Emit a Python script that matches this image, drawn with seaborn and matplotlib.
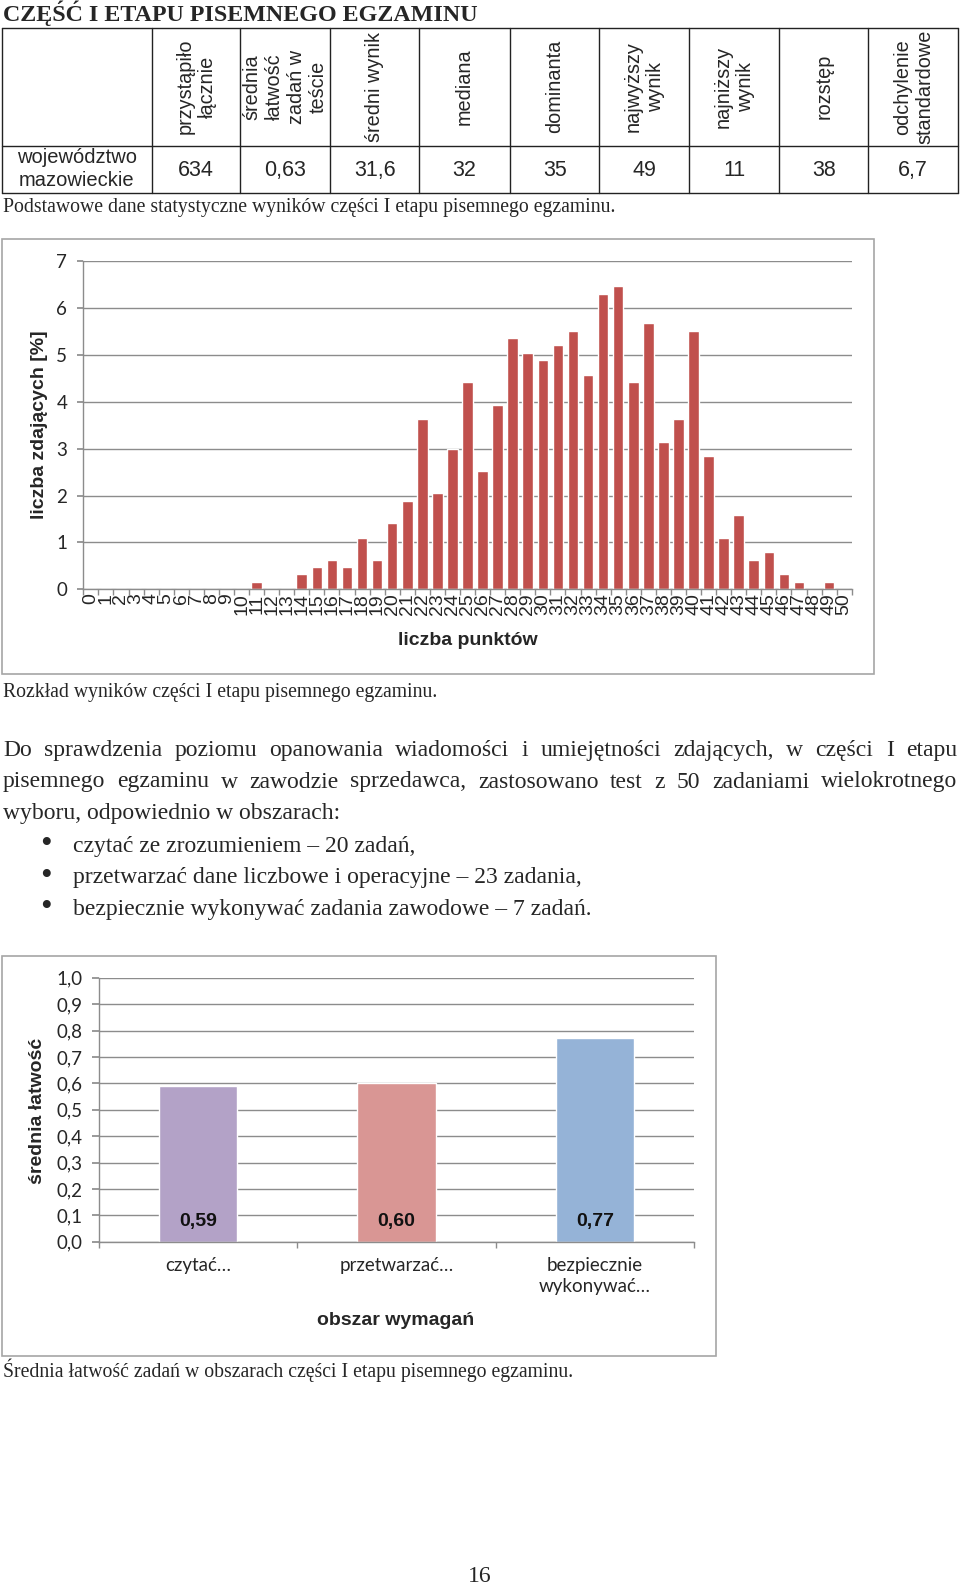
import numpy as np
import pandas as pd
import matplotlib
matplotlib.use('Agg')
import matplotlib.pyplot as plt
import seaborn as sns
from matplotlib.patches import Rectangle
from matplotlib.ticker import FuncFormatter

W, H = 960, 1585

# ---- dane: tabela ----
naglowki = ['przystąpiło\nłącznie', 'średnia\nłatwość\nzadań w\nteście', 'średni wynik',
            'mediana', 'dominanta', 'najwyższy\nwynik', 'najniższy\nwynik', 'rozstęp',
            'odchylenie\nstandardowe']
wiersz = 'województwo\nmazowieckie'
wartosci = ['634', '0,63', '31,6', '32', '35', '49', '11', '38', '6,7']

# ---- dane: rozkład wyników ----
punkty = [str(i) for i in range(51)]
procent = [0, 0, 0, 0, 0, 0, 0, 0, 0, 0, 0,
           0.16, 0, 0, 0.32, 0.47, 0.63, 0.47, 1.10, 0.63, 1.42,
           1.89, 3.63, 2.05, 3.00, 4.42, 2.52, 3.94, 5.36, 5.05, 4.89,
           5.21, 5.52, 4.57, 6.31, 6.47, 4.42, 5.68, 3.15, 3.63, 5.52,
           2.84, 1.10, 1.58, 0.63, 0.79, 0.32, 0.16, 0, 0.16, 0]

# ---- dane: łatwość w obszarach ----
obszary = ['czytać…', 'przetwarzać…', 'bezpiecznie\nwykonywać…']
latwosc = [0.59, 0.60, 0.77]
kolory = ['#B3A2C7', '#D99694', '#95B3D7']

# ---- tekst ----
akapit = ['Do sprawdzenia poziomu opanowania wiadomości i umiejętności zdających, w części I etapu',
          'pisemnego egzaminu w zawodzie sprzedawca, zastosowano test z 50 zadaniami wielokrotnego',
          'wyboru, odpowiednio w obszarach:']
punktory = ['czytać ze zrozumieniem – 20 zadań,',
            'przetwarzać dane liczbowe i operacyjne – 23 zadania,',
            'bezpiecznie wykonywać zadania zawodowe – 7 zadań.']

sns.set_theme(style='white')
plt.rcParams['font.family'] = ['Liberation Sans', 'DejaVu Sans']

SERIF = ['Liberation Serif', 'DejaVu Serif']
CAL = ['Lato', 'DejaVu Sans']
GRID = '#8C8C8C'

fig = plt.figure(figsize=(9.6, 15.85), dpi=100)
page = fig.add_axes([0, 0, 1, 1])
page.set_xlim(0, W)
page.set_ylim(H, 0)
page.axis('off')


def px_axes(x0, y0, x1, y1):
    return fig.add_axes([x0 / W, 1 - y1 / H, (x1 - x0) / W, (y1 - y0) / H])


# ==========================================
# tytuł + tabela
# ==========================================
page.text(3, 21.5, 'CZĘŚĆ I ETAPU PISEMNEGO EGZAMINU', family=SERIF, weight='bold',
          size=17.3, va='baseline')

cols = [2, 151.7, 240, 330, 419.3, 510, 599.3, 689.3, 779, 868.3, 958.3]
y_top, y_mid, y_bot = 27.7, 145.7, 192.7
lc = '#222222'
for y in (y_top, y_mid, y_bot):
    page.plot([cols[0], cols[-1]], [y, y], color=lc, lw=1)
for x in cols:
    page.plot([x, x], [y_top, y_bot], color=lc, lw=1)

for i, lab in enumerate(naglowki):
    cx = (cols[i + 1] + cols[i + 2]) / 2
    page.text(cx, (y_top + y_mid) / 2, lab, rotation=90, ha='center', va='center',
              multialignment='center', linespacing=1.22, size=14.3)
    page.text(cx, (y_mid + y_bot) / 2 + 1, wartosci[i], ha='center', va='center', size=15.5)
page.text((cols[0] + cols[1]) / 2, (y_mid + y_bot) / 2, wiersz, ha='center', va='center',
          multialignment='center', linespacing=1.25, size=14.5)

page.text(3, 212, 'Podstawowe dane statystyczne wyników części I etapu pisemnego egzaminu.',
          family=SERIF, size=14.2, va='baseline')

# ==========================================
# wykres 1: rozkład wyników
# ==========================================
page.add_patch(Rectangle((2, 239), 872, 435, fill=False, ec='#A6A6A6', lw=1.2))
ax1 = px_axes(83.3, 261.3, 851.7, 589.3)
df_hist = pd.DataFrame({'punkty': punkty, 'procent': procent})
sns.barplot(data=df_hist, x='punkty', y='procent', color='#C0504D', width=0.7,
            saturation=1, ax=ax1)
ax1.set_facecolor('none')
ax1.set_xlim(-0.5, 50.5)
ax1.set_ylim(0, 7)
ax1.set_yticks(range(8))
ax1.yaxis.grid(True, color=GRID, lw=1)
ax1.set_axisbelow(True)
for s in ('top', 'right'):
    ax1.spines[s].set_visible(False)
for s in ('left', 'bottom'):
    ax1.spines[s].set_color(GRID)
    ax1.spines[s].set_linewidth(1)
ax1.set_xticks(np.arange(-0.5, 51, 1), minor=True)
ax1.tick_params(axis='x', which='major', length=0, pad=3, labelrotation=90, labelsize=14)
ax1.tick_params(axis='x', which='minor', length=4, color=GRID, direction='out', bottom=True)
ax1.tick_params(axis='y', length=4.5, color=GRID, direction='out', left=True, pad=7)
for lab in ax1.get_yticklabels():
    lab.set_family(CAL)
    lab.set_fontsize(13.5)
ax1.set_xlabel('liczba punktów', fontsize=14, fontweight='bold', va='center')
ax1.xaxis.set_label_coords(0.5007, -0.1546)
ax1.set_ylabel('liczba zdających [%]', fontsize=14, fontweight='bold', va='center')
ax1.yaxis.set_label_coords(-0.0564, 0.501)

page.text(3, 697, 'Rozkład wyników części I etapu pisemnego egzaminu.',
          family=SERIF, size=14.2, va='baseline')

# ==========================================
# akapit (wyjustowany)
# ==========================================
renderer = fig.canvas.get_renderer()


def justified(line, y, x0, x1):
    words = line.split(' ')
    texts = [page.text(0, y, w, family=SERIF, size=17, va='baseline') for w in words]
    widths = [t.get_window_extent(renderer=renderer).width for t in texts]
    gap = (x1 - x0 - sum(widths)) / (len(words) - 1)
    x = x0
    for t, w in zip(texts, widths):
        t.set_x(x)
        x += w + gap


justified(akapit[0], 756, 3, 957)
justified(akapit[1], 787.5, 3, 957)
page.text(3, 818.5, akapit[2], family=SERIF, size=17, va='baseline')
for i, txt in enumerate(punktory):
    yb = 852 + i * 31.5
    page.text(46, yb - 7, '•', family=SERIF, size=24, ha='center', va='center')
    page.text(73, yb, txt, family=SERIF, size=17, va='baseline')

# ==========================================
# wykres 2: średnia łatwość w obszarach
# ==========================================
page.add_patch(Rectangle((2, 956), 714, 400, fill=False, ec='#A6A6A6', lw=1.2))
ax2 = px_axes(99, 977.7, 694, 1241.7)
df_obszar = pd.DataFrame({'obszar': obszary, 'latwosc': latwosc})
sns.barplot(data=df_obszar, x='obszar', y='latwosc', hue='obszar', palette=kolory,
            width=0.395, saturation=1, legend=False, ax=ax2)
ax2.set_facecolor('none')
ax2.set_xlim(-0.5, 2.5)
ax2.set_ylim(0, 1.0)
ax2.set_yticks(np.arange(0, 1.01, 0.1))
ax2.yaxis.set_major_formatter(FuncFormatter(lambda v, p: f'{v:.1f}'.replace('.', ',')))
ax2.yaxis.grid(True, color=GRID, lw=1)
ax2.set_axisbelow(True)
for s in ('top', 'right'):
    ax2.spines[s].set_visible(False)
for s in ('left', 'bottom'):
    ax2.spines[s].set_color(GRID)
    ax2.spines[s].set_linewidth(1)
ax2.set_xticks([-0.5, 0.5, 1.5, 2.5], minor=True)
ax2.tick_params(axis='x', which='major', length=0, pad=11)
ax2.tick_params(axis='x', which='minor', length=4, color=GRID, direction='out', bottom=True)
ax2.tick_params(axis='y', length=5, color=GRID, direction='out', left=True, pad=7)
for lab in ax2.get_yticklabels():
    lab.set_family(CAL)
    lab.set_fontsize(13.5)
for lab in ax2.get_xticklabels():
    lab.set_family(CAL)
    lab.set_fontsize(13.5)
    lab.set_linespacing(1.3)
for i, v in enumerate(latwosc):
    ax2.text(i, 0.076, f'{v:.2f}'.replace('.', ','), ha='center', va='center',
             fontsize=14, fontweight='bold', color='#111111')
ax2.set_xlabel('obszar wymagań', fontsize=14, fontweight='bold', va='center')
ax2.xaxis.set_label_coords(0.499, -0.300)
ax2.set_ylabel('średnia łatwość', fontsize=14, fontweight='bold', va='center')
ax2.yaxis.set_label_coords(-0.1042, 0.496)

page.text(3, 1377, 'Średnia łatwość zadań w obszarach części I etapu pisemnego egzaminu.',
          family=SERIF, size=14.2, va='baseline')
page.text(480, 1582, '16', family=SERIF, size=17, ha='center', va='baseline')

fig.savefig('out.png', dpi=100)
plt.close(fig)
